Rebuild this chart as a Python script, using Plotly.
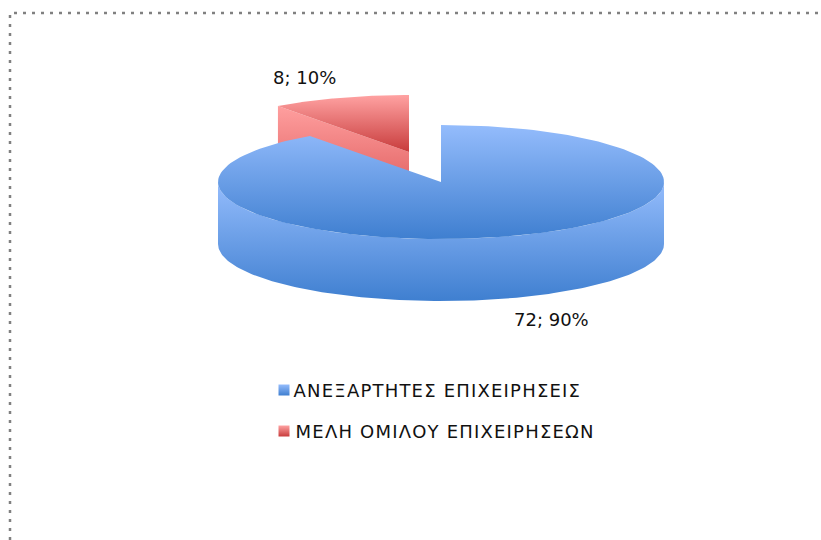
import numpy as np
import plotly.graph_objects as go

categories = ["ΑΝΕΞΑΡΤΗΤΕΣ ΕΠΙΧΕΙΡΗΣΕΙΣ", "ΜΕΛΗ ΟΜΙΛΟΥ ΕΠΙΧΕΙΡΗΣΕΩΝ"]
values = [72, 8]
percents = [90, 10]
label_pos = [(551, 319), (304, 77)]

W, H = 821, 540
RX, RY, DEPTH = 223, 57, 62
CENTER = (441, 182)
EXPLODED = (409, 152)
FONT = "DejaVu Sans"
BLACK = "#111111"

total = sum(values)
a_blue = 360 * values[0] / total


def arc(c, start, end, dy=0, n=160):
    t = np.radians(np.linspace(start, end, n))
    return c[0] + RX * np.sin(t), c[1] - RY * np.cos(t) + dy


def poly(x, y, top, bottom, start, stop, name):
    return go.Scatter(
        x=list(x) + [x[0]], y=list(y) + [y[0]], mode="lines", fill="toself",
        line=dict(width=0), name=name, hoverinfo="name", showlegend=False,
        fillgradient=dict(type="vertical", start=start, stop=stop,
                          colorscale=[[0, top], [1, bottom]]),
    )


fig = go.Figure()

# exploded red slice
rx1, ry1 = arc(EXPLODED, a_blue, 360)
ex, ey = rx1[0], ry1[0]
fig.add_trace(poly([ex, EXPLODED[0], EXPLODED[0], ex],
                   [ey, EXPLODED[1], EXPLODED[1] + DEPTH, ey + DEPTH],
                   "#ff9f9f", "#d85050", ey, EXPLODED[1] + DEPTH, categories[1]))
fig.add_trace(poly(list(rx1) + [EXPLODED[0]], list(ry1) + [EXPLODED[1]],
                   "#ffa2a2", "#c83c3c", EXPLODED[1] - RY, EXPLODED[1], categories[1]))

# blue body
xa, ya = arc(CENTER, 90, 270)
xb, yb = arc(CENTER, 270, 90, dy=DEPTH)
fig.add_trace(poly(list(xa) + list(xb), list(ya) + list(yb),
                   "#94bcfc", "#3f7fd0", CENTER[1], CENTER[1] + RY + DEPTH, categories[0]))
xt, yt = arc(CENTER, 0, a_blue)
fig.add_trace(poly(list(xt) + [CENTER[0]], list(yt) + [CENTER[1]],
                   "#94bcfc", "#3f7fd0", CENTER[1] - RY, CENTER[1] + RY, categories[0]))

# legend swatches
swatch_y = [390, 431]
legend_cx = [437.5, 445]
grads = [("#94bcfc", "#3f7fd0"), ("#ffa2a2", "#c83c3c")]
for cat, sy, (c1, c2) in zip(categories, swatch_y, grads):
    fig.add_trace(go.Scatter(
        x=[284], y=[sy], mode="markers", name=cat, showlegend=False, hoverinfo="name",
        marker=dict(symbol="square", size=11, color=c1, line=dict(width=0),
                    gradient=dict(type="vertical", color=c2)),
    ))

annotations = [
    dict(x=px, y=py, text=f"{v}; {p}%", showarrow=False, xanchor="center", yanchor="middle",
         font=dict(family=FONT, size=18, color=BLACK))
    for v, p, (px, py) in zip(values, percents, label_pos)
]
for cat, sy, cx in zip(categories, swatch_y, legend_cx):
    annotations.append(dict(x=cx, y=sy, text=cat, showarrow=False, xanchor="center", yanchor="middle",
                            font=dict(family=FONT, size=18, color=BLACK)))

fig.update_layout(
    width=W, height=H, margin=dict(l=0, r=0, t=0, b=0), autosize=False,
    paper_bgcolor="white", plot_bgcolor="white", showlegend=False,
    xaxis=dict(range=[0, W], visible=False, fixedrange=True),
    yaxis=dict(range=[H, 0], visible=False, fixedrange=True),
    annotations=annotations,
    shapes=[dict(type="path", path=f"M 10 {H} L 10 13 L {W} 13", xref="x", yref="y",
                 line=dict(color="#808080", width=2.5, dash="3px,6px"))],
)

post = """
document.body.style.margin = '0';
document.body.style.overflow = 'hidden';
function spacing() {
  var t = document.querySelectorAll('.annotation-text');
  for (var i = 2; i < t.length; i++) { t[i].style.letterSpacing = '1.2px'; }
}
spacing();
setTimeout(spacing, 50);
"""
fig.write_html("out.html", config={"displayModeBar": False, "responsive": False}, post_script=post)
